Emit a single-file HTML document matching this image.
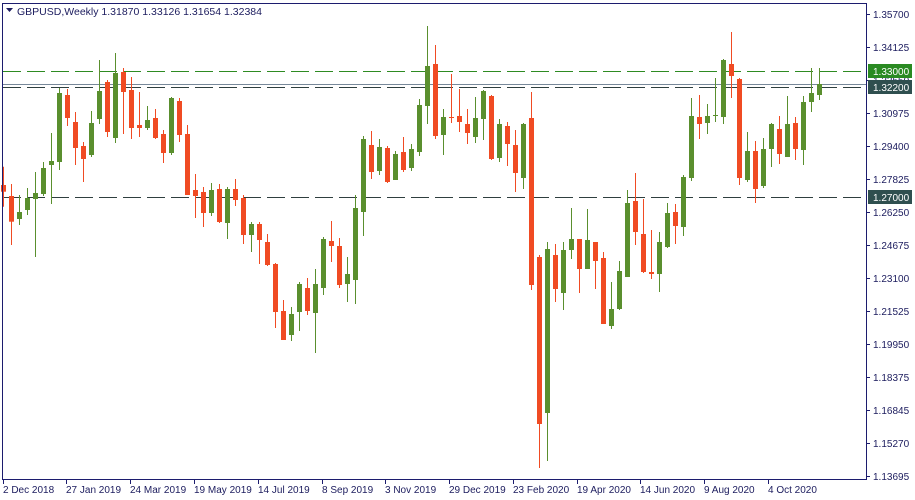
<!DOCTYPE html>
<html><head><meta charset="utf-8"><style>
html,body{margin:0;padding:0;background:#fff;}
svg{display:block;font-family:"Liberation Sans",sans-serif;}
</style></head><body>
<svg id="s" width="915" height="500" viewBox="0 0 915 500" xmlns="http://www.w3.org/2000/svg">
<rect x="0" y="0" width="915" height="500" fill="#fff"/>
<g id="lines">
<line x1="3" x2="866" y1="71.5" y2="71.5" stroke="#2e8b22" stroke-width="1" stroke-dasharray="18,6"/>
<line x1="3" x2="866" y1="84.5" y2="84.5" stroke="#778899" stroke-width="1"/>
<line x1="3" x2="866" y1="87.5" y2="87.5" stroke="#2f3f3f" stroke-width="1" stroke-dasharray="18,6"/>
<line x1="3" x2="866" y1="197.5" y2="197.5" stroke="#2f3f3f" stroke-width="1" stroke-dasharray="18,6"/>
</g>
<g id="c"></g>
<rect x="2.5" y="3.5" width="864" height="476" fill="none" stroke="#1c1c6e" stroke-width="1"/>
<polygon points="6,8 13,8 9.5,12" fill="#1c1c5e"/>
<text x="17" y="15" font-size="10.5" fill="#1c1c5e">GBPUSD,Weekly  1.31870 1.33126 1.31654 1.32384</text>
<g font-size="10" fill="#1c1c5e">
<text x="873" y="18">1.35700</text>
<text x="873" y="51">1.34125</text>
<text x="873" y="84">1.32550</text>
<text x="873" y="117">1.30975</text>
<text x="873" y="150">1.29400</text>
<text x="873" y="183">1.27825</text>
<text x="873" y="216">1.26250</text>
<text x="873" y="249">1.24675</text>
<text x="873" y="282">1.23100</text>
<text x="873" y="315">1.21525</text>
<text x="873" y="348">1.19950</text>
<text x="873" y="381">1.18375</text>
<text x="873" y="414">1.16845</text>
<text x="873" y="447">1.15270</text>
<text x="873" y="480">1.13695</text>
</g>
<g id="ticks" stroke="#1c1c6e"></g>
<rect x="868" y="64" width="44" height="14" fill="#2a8a22"/>
<text x="873" y="75" font-size="10" fill="#fff">1.33000</text>
<rect x="868" y="80" width="44" height="14" fill="#2f4f4f"/>
<text x="873" y="91" font-size="10" fill="#fff">1.32200</text>
<rect x="868" y="190" width="44" height="14" fill="#2f4f4f"/>
<text x="873" y="201" font-size="10" fill="#fff">1.27000</text>
<g font-size="10" fill="#1c1c5e">
<text x="3" y="493">2 Dec 2018</text>
<text x="66" y="493">27 Jan 2019</text>
<text x="130" y="493">24 Mar 2019</text>
<text x="194" y="493">19 May 2019</text>
<text x="258" y="493">14 Jul 2019</text>
<text x="322" y="493">8 Sep 2019</text>
<text x="385" y="493">3 Nov 2019</text>
<text x="449" y="493">29 Dec 2019</text>
<text x="513" y="493">23 Feb 2020</text>
<text x="577" y="493">19 Apr 2020</text>
<text x="640" y="493">14 Jun 2020</text>
<text x="704" y="493">9 Aug 2020</text>
<text x="768" y="493">4 Oct 2020</text>
</g>
</svg>
<script>
var D=[
['r',495,515,440,560],['r',528,605,492,675],['g',576,597,525,615],['g',534,570,504,585],['g',519,537,456,711],
['g',444,522,426,528],['g',423,435,339,552],['g',219,426,204,450],['r',225,294,207,318],['r',306,384,276,435],
['r',378,417,366,486],['g',309,405,273,411],['g',213,297,120,312],['r',186,336,180,351],['g',159,354,99,369],
['r',156,216,144,342],['r',210,324,171,357],['r',315,324,216,351],['g',300,324,258,330],['r',294,354,267,357],
['r',342,399,330,429],['g',234,399,231,405],['r',243,345,234,366],['r',342,525,315,525],['r',510,528,462,594],
['r',516,579,501,621],['g',510,579,489,588],['r',507,606,492,609],['g',507,609,501,657],['r',507,540,477,558],
['r',534,645,525,672],['g',612,645,606,696],['r',612,660,606,732],['r',666,735,642,738],['r',732,876,729,924],
['r',873,960,840,960],['g',882,945,861,963],['g',792,876,786,933],['r',804,873,774,885],['g',792,879,747,999],
['g',657,804,651,825],['r',663,678,603,726],['r',678,795,654,804],['g',762,792,711,846],['g',564,780,525,852],
['g',357,576,348,648],['r',375,456,333,477],['g',381,453,357,465],['r',384,486,378,489],['g',402,480,393,480],
['r',396,450,351,456],['g',387,444,372,453],['g',255,396,237,408],['g',138,258,18,312],['r',132,348,75,357],
['g',291,345,267,405],['r',291,294,162,309],['r',288,306,207,336],['r',312,339,267,372],['g',294,351,231,369],
['g',213,297,210,360],['r',228,417,225,420],['g',312,414,297,426],['r',318,372,306,438],['r',375,459,330,516],
['g',312,474,309,507],['r',294,795,216,810],['r',711,1212,705,1344],['g',687,1179,666,1323],['r',705,807,672,846],
['g',690,819,666,870],['g',657,690,564,717],['r',657,747,657,819],['g',660,747,567,747],['r',666,723,666,807],
['r',714,912,696,912],['g',867,918,786,927],['g',753,867,723,870],['g',549,771,510,771],['r',543,636,459,675],
['r',642,756,537,759],['r',756,762,630,777],['g',666,762,636,816],['g',579,681,549,684],['r',576,618,552,672],
['g',471,621,465,648],['g',288,474,234,483],['r',291,312,225,357],['g',288,309,252,342],['g',285,288,174,306],
['g',120,291,117,312],['r',132,168,36,234],['r',177,474,174,495],['g',393,480,336,486],['r',393,507,363,549],
['g',387,498,354,504],['g',312,387,309,441],['r',327,402,288,432],['g',312,411,228,411],['r',309,387,291,420],
['g',246,390,228,435],['g',219,246,144,276],['g',192,225,144,240]];
var ns="http://www.w3.org/2000/svg",g=document.getElementById('c'),h='';
function Y(z){return 20+z/3;}
D.forEach(function(d,i){
 var x=3.3+8*i,col=d[0]=='g'?'#5a8f2e':'#f04b23';
 var cx=Math.round(x)+0.5;
 h+='<line x1="'+cx+'" x2="'+cx+'" y1="'+Y(d[3]).toFixed(1)+'" y2="'+Y(d[4]).toFixed(1)+'" stroke="'+col+'" stroke-width="1"/>';
 var t=Y(d[1]),b=Y(d[2]);if(b-t<1)b=t+1;
 h+='<rect x="'+(Math.round(x)-2)+'" y="'+t.toFixed(1)+'" width="5" height="'+(b-t).toFixed(1)+'" fill="'+col+'"/>';
});
g.innerHTML=h;
var tk='';
for(var k=0;k<15;k++){var y=14+33*k;tk+='<line x1="866" x2="870" y1="'+(y+0.5)+'" y2="'+(y+0.5)+'"/>';}
[3,66,130,194,258,322,385,449,513,577,640,704,768].forEach(function(x){tk+='<line x1="'+(x+0.5)+'" x2="'+(x+0.5)+'" y1="480" y2="484"/>';});
document.getElementById('ticks').innerHTML=tk;
</script>
</body></html>
